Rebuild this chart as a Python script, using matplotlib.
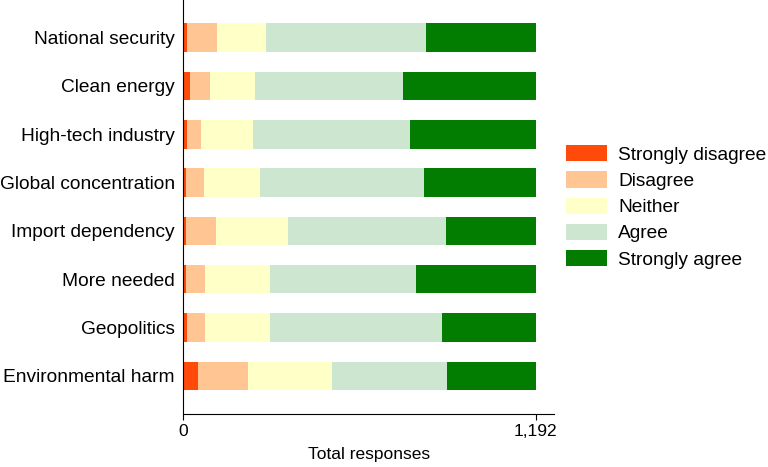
import matplotlib
matplotlib.use("Agg")
import matplotlib.pyplot as plt
from matplotlib.patches import Patch
import numpy as np

plt.rcParams['font.family'] = ['Liberation Sans', 'DejaVu Sans']

categories = ["National security", "Clean energy", "High-tech industry",
              "Global concentration", "Import dependency", "More needed",
              "Geopolitics", "Environmental harm"]
series_names = ["Strongly disagree", "Disagree", "Neither", "Agree", "Strongly agree"]
strongly_disagree = [13, 23, 13, 8, 9, 8, 11, 51]
disagree = [100, 68, 47, 62, 103, 64, 64, 168]
neither = [167, 152, 175, 188, 242, 221, 218, 285]
agree = [541, 499, 532, 556, 536, 493, 583, 388]
strongly_agree = [371, 450, 425, 378, 302, 406, 316, 300]
total = 1192
colors = ["#FF4A0A", "#FFC592", "#FFFFC8", "#CDE6CF", "#027D02"]

fig = plt.figure(figsize=(7.68, 4.67), dpi=100)
ax = fig.add_axes([0.2387, 0.1135, 0.4827, 0.8865])

y = np.arange(len(categories))
left = np.zeros(len(categories))
for vals, col, name in zip([strongly_disagree, disagree, neither, agree, strongly_agree],
                           colors, series_names):
    ax.barh(y, vals, left=left, height=0.59, color=col, label=name, linewidth=0)
    left += np.array(vals)

ax.set_ylim(7.79, -0.78)
ax.set_xlim(0, 1254)
ax.set_yticks(y)
ax.set_yticklabels(categories, fontsize=13.8)
ax.tick_params(axis='y', length=0, pad=6)
ax.set_xticks([0, total])
ax.set_xticklabels(["0", "1,192"], fontsize=12.5)
ax.tick_params(axis='x', length=4, width=0.8, pad=3)
ax.set_xlabel("Total responses", fontsize=12.5, labelpad=6)
for s in ["top", "right"]:
    ax.spines[s].set_visible(False)
for s in ["left", "bottom"]:
    ax.spines[s].set_linewidth(0.8)

handles = [Patch(facecolor=c, edgecolor='none', label=n) for c, n in zip(colors, series_names)]
fig.legend(handles=handles, loc='center left', bbox_to_anchor=(0.737, 0.557),
           frameon=False, fontsize=13.8, handlelength=2.14, handleheight=0.92,
           handletextpad=0.57, labelspacing=0.39, borderaxespad=0, borderpad=0)

fig.savefig("out.png", dpi=100)
